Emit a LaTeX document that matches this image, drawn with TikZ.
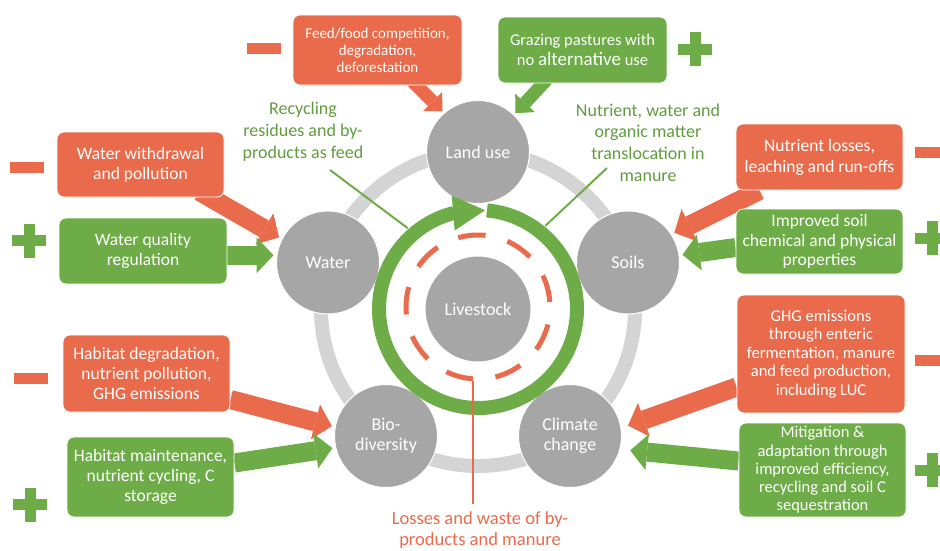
\documentclass[tikz,border=0pt]{standalone}
\usepackage{fontspec}
\setmainfont{Carlito}
\usetikzlibrary{arrows.meta,bending}
\pgfdeclarelayer{arrowlayer}
\pgfsetlayers{arrowlayer,main}
\definecolor{cred}{RGB}{234,107,76}
\definecolor{cgreen}{RGB}{109,172,70}
\definecolor{cgray}{RGB}{166,166,166}
\definecolor{cring}{RGB}{212,212,212}
\definecolor{ctxtgreen}{RGB}{96,156,62}
\newcommand{\fsz}[2]{\fontsize{#1}{#2}\selectfont}
\begin{document}
\begin{tikzpicture}[x=1pt,y=1pt,
  box/.style={rectangle, rounded corners=7pt, draw=white, line width=0.8pt, text=white, align=center, inner sep=0pt},
  rbox/.style={box, fill=cred},
  gbox/.style={box, fill=cgreen},
  sat/.style={circle, fill=cgray, draw=white, line width=1pt, minimum size=103pt, inner sep=0pt, text=white, align=center, font=\fsz{18}{20}},
  minussign/.style={rectangle, fill=cred, minimum width=34pt, minimum height=11pt, inner sep=0pt},
  pics/plussign/.style={code={\fill[cgreen] (-17,-5.5) rectangle (17,5.5); \fill[cgreen] (-5.5,-17) rectangle (5.5,17);}},
  redarrow/.style={draw=cred, line width=19pt, -{Triangle[length=17pt,width=36pt,line width=0pt]}, shorten >=3pt},
  greenarrow/.style={draw=cgreen, line width=19pt, -{Triangle[length=17pt,width=36pt,line width=0pt]}, shorten >=3pt},
  redarrowsm/.style={draw=cred, line width=13pt, -{Triangle[length=14pt,width=27pt,line width=0pt]}, shorten >=2pt},
  greenarrowsm/.style={draw=cgreen, line width=13pt, -{Triangle[length=14pt,width=27pt,line width=0pt]}, shorten >=2pt},
  thingreen/.style={draw=cgreen, line width=2pt},
  greenlabel/.style={text=ctxtgreen, align=center, inner sep=0pt, font=\fsz{18}{21.7}},
]
\useasboundingbox (0,0) rectangle (940,-550);
\clip (0,0) rectangle (940,-550);

\coordinate (ctr) at (478,-309);

% outer gray ring
\draw[cring, line width=14pt] (ctr) circle[radius=157pt];

% satellites
\node[sat] (land) at (478,-152) {Land use};
\node[sat] (water) at (328,-262.5) {Water};
\node[sat] (soils) at (628,-262.5) {Soils};
\node[sat] (bio) at (386,-436) {Bio-\\diversity};
\node[sat] (clim) at (570,-436) {Climate\\change};

% green recycling ring with arrow
\draw[cgreen, line width=14pt, -{Triangle[length=32pt,width=35pt,line width=0pt]}]
  ([shift={(84.8:99pt)}]ctr) arc[start angle=84.8, end angle=-274.1, radius=99pt];

% red dashed ring and livestock
\node[circle, draw=cred, line width=5pt, minimum size=144pt, inner sep=0pt,
      dash pattern=on 27.6pt off 22.67pt, dash phase=-5pt] (dashring) at (478,-307) {};
\node[circle, fill=cgray, draw=white, line width=1pt, minimum size=106pt, inner sep=0pt,
      text=white, font=\fsz{18}{20}] (live) at (ctr) {Livestock};

% labels
\node[greenlabel] (recyc) at (303,-131.5) {Recycling\\residues and by-\\products as feed};
\node[greenlabel] (nutr) at (648,-142.5) {Nutrient, water and\\organic matter\\translocation in\\manure};
\node[text=cred, align=center, inner sep=0pt, font=\fsz{18.5}{21}] (loss) at (480,-530) {Losses and waste of by-\\products and manure};

\coordinate (recA) at (330,-170);
\coordinate (nutA) at (607,-168);
\draw[thingreen] (recA) -- ([shift={(131:107pt)}]ctr);
\draw[thingreen] (nutA) -- ([shift={(51:107pt)}]ctr);
\draw[cred, line width=2pt] (dashring.-94) -- (dashring.-94 |- 0,-504);

% boxes
\node[rbox, minimum width=169pt, minimum height=70pt, font=\fsz{15}{17}] (feed) at (377.5,-50) {Feed/food competition,\\degradation,\\deforestation};
\node[gbox, minimum width=169pt, minimum height=66pt, font=\fsz{16.5}{20}] (graze) at (582.5,-50) {Grazing pastures with\\no {\fsz{19}{20}alternative} use};
\node[rbox, minimum width=167pt, minimum height=65pt, font=\fsz{17.5}{20}] (wwith) at (140.5,-164.5) {Water withdrawal\\and pollution};
\node[gbox, minimum width=168pt, minimum height=66pt, font=\fsz{17.5}{20}] (wqual) at (143,-251) {Water quality\\regulation};
\node[rbox, minimum width=167pt, minimum height=77pt, font=\fsz{17.5}{19.7}] (habdeg) at (146.5,-373.5) {Habitat degradation,\\nutrient pollution,\\GHG emissions};
\node[gbox, minimum width=167pt, minimum height=80pt, font=\fsz{17.5}{19.7}] (habmain) at (150.5,-477) {Habitat maintenance,\\nutrient cycling, C\\storage};
\node[rbox, minimum width=167pt, minimum height=66pt, font=\fsz{17.5}{21}] (nutloss) at (819.5,-157) {Nutrient losses,\\leaching and run-offs};
\node[gbox, minimum width=167pt, minimum height=65pt, font=\fsz{17.5}{19.5}] (impsoil) at (819.5,-241.5) {Improved soil\\chemical and physical\\properties};
\node[rbox, minimum width=168pt, minimum height=118pt, font=\fsz{16.5}{18.6}] (ghg) at (821,-354) {GHG emissions\\through enteric\\fermentation, manure\\and feed production,\\including LUC};
\node[gbox, minimum width=167pt, minimum height=94pt, font=\fsz{16.5}{18.2}] (mitig) at (822.5,-470) {Mitigation \&\\adaptation through\\improved efficiency,\\recycling and soil C\\sequestration};

% big arrows, on a layer below the boxes
\begin{pgfonlayer}{arrowlayer}
\draw[redarrowsm] ([xshift=35pt,yshift=4pt]feed.south) -- (land.131);
\draw[greenarrowsm] ([xshift=-35.5pt,yshift=4pt]graze.south) -- (land.46);
\draw[redarrow] ([xshift=-25pt,yshift=6pt]wwith.south east) -- (water.153);
\draw[greenarrow] (wqual.east |- water.172) -- (water.172);
\draw[redarrow] ([yshift=-26pt]habdeg.east) -- (bio.170);
\draw[greenarrow] ([yshift=14pt]habmain.east) -- (bio.193);
\draw[redarrow] ([xshift=-60pt]nutloss.south) -- (soils.33);
\draw[greenarrow] ([yshift=-6pt]impsoil.west) -- (soils.8);
\draw[redarrow, shorten >=7pt] ([yshift=-33pt]ghg.west) -- (clim.9);
\draw[greenarrow, shorten >=10pt] ([yshift=9pt]mitig.west) -- (clim.-15);
\end{pgfonlayer}

% signs
\node[minussign] (m1) at (263.5,-48) {};
\node[minussign] (m2) at (27,-167) {};
\node[minussign] (m3) at (31,-378.5) {};
\node[minussign] (m4) at (932,-152) {};
\node[minussign] (m5) at (932,-360) {};
\pic (p1) at (695,-49) {plussign};
\pic (p2) at (29,-240.5) {plussign};
\pic (p3) at (30,-504.5) {plussign};
\pic (p4) at (932,-238) {plussign};
\pic (p5) at (932,-470) {plussign};
\end{tikzpicture}
\end{document}
